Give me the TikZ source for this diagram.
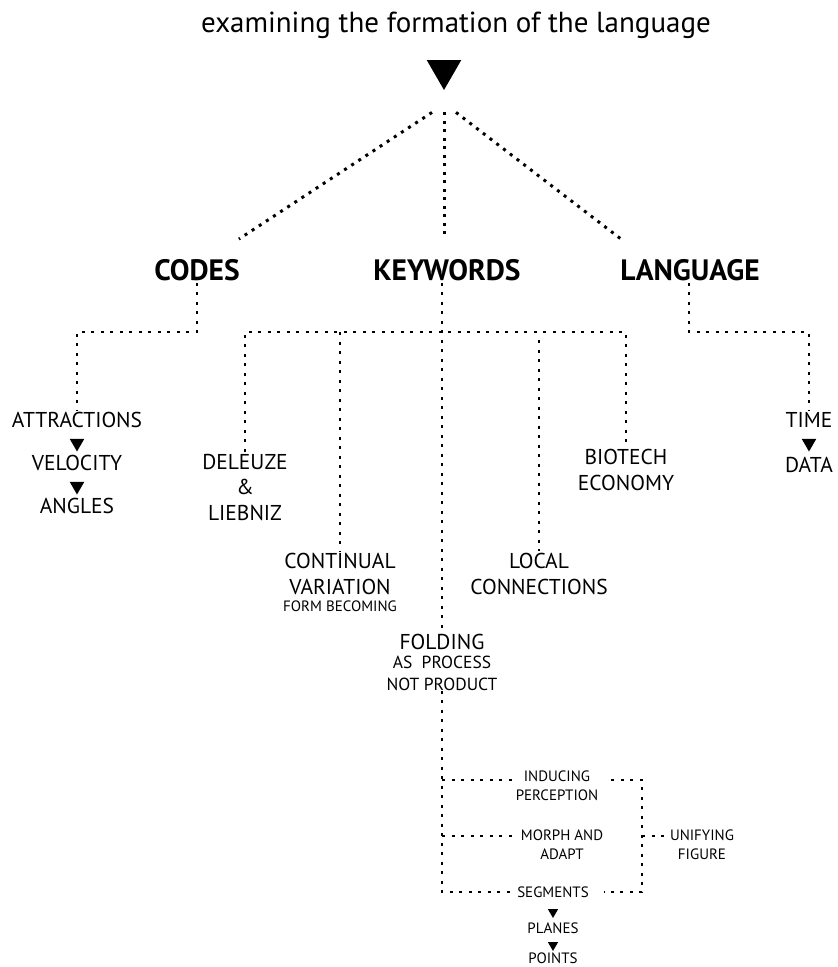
\documentclass[tikz,border=0pt]{standalone}
\usepackage{fontspec}
\setmainfont{PT Sans}
\usetikzlibrary{shapes.geometric}
\usetikzlibrary{positioning}

\begin{document}
\begin{tikzpicture}[x=1pt,y=-1pt,
titlenode/.style={font=\fontsize{29}{32}\selectfont, inner sep=0pt},
headnode/.style={font=\bfseries\fontsize{29.5}{32}\selectfont, inner sep=2pt},
labelnode/.style={font=\fontsize{21.5}{25.5}\selectfont, align=center, inner sep=2pt},
subnode/.style={font=\fontsize{17.5}{21.5}\selectfont, align=center, inner sep=2pt},
smallnode/.style={font=\fontsize{15}{19}\selectfont, align=center, inner sep=3pt},
bigtri/.style={regular polygon, regular polygon sides=3, shape border rotate=180, fill=black, inner sep=0pt, minimum size=40pt},
smalltri/.style={regular polygon, regular polygon sides=3, shape border rotate=180, fill=black, inner sep=0pt, minimum size=17pt},
tinytri/.style={regular polygon, regular polygon sides=3, shape border rotate=180, fill=black, inner sep=0pt, minimum size=12pt},
bigdots/.style={line width=3pt, dash pattern=on 3pt off 5.5pt},
dots/.style={line width=1.8pt, dash pattern=on 3pt off 6.5pt},
]
\useasboundingbox (0,0) rectangle (838,967);
%Nodes
\node[titlenode] (title) at (456,25) {examining the formation of the language};
\node[bigtri]    (mark)  at (444,70) {};
\node[headnode]  (codes)    at (197,270) {CODES};
\node[headnode]  (keywords) at (447,270) {KEYWORDS};
\node[headnode]  (language) at (690,270) {LANGUAGE};

\node[labelnode] (attr)     at (77,420) {ATTRACTIONS};
\node[smalltri]  (attrtri)  at (77,443) {};
\node[labelnode] (velocity) at (77,463) {VELOCITY};
\node[smalltri]  (veltri)   at (77,486) {};
\node[labelnode] (angles)   at (77,506) {ANGLES};

\node[labelnode] (deleuze)   at (245,487) {DELEUZE\\\&\\LIEBNIZ};
\node[labelnode] (continual) at (340,574) {CONTINUAL\\VARIATION};
\node[smallnode, inner sep=0pt] (becoming) [below=4pt of continual] {FORM BECOMING};
\node[labelnode] (local)     at (539,574) {LOCAL\\CONNECTIONS};
\node[labelnode] (biotech)   at (626,470) {BIOTECH\\ECONOMY};

\node[labelnode] (time)    at (809,420) {TIME};
\node[smalltri]  (timetri) at (809,443) {};
\node[labelnode] (data)    at (809,465) {DATA};

\node[labelnode] (folding) at (442,642) {FOLDING};
\node[subnode, inner sep=0pt] (process) [below=4pt of folding] {AS\ \ PROCESS\\NOT PRODUCT};

\node[smallnode] (inducing) at (557,786) {INDUCING\\PERCEPTION};
\node[smallnode] (morph)    at (562,845) {MORPH AND\\ADAPT};
\node[smallnode] (unifying) at (702,845) {UNIFYING\\FIGURE};
\node[smallnode] (segments) at (553,892) {SEGMENTS};
\node[tinytri]   (segtri)   at (553,912) {};
\node[smallnode] (planes)   at (553,928) {PLANES};
\node[tinytri]   (platri)   at (553,945) {};
\node[smallnode] (points)   at (553,958) {POINTS};

%Lines
\coordinate (codesbus) at (197,332);
\coordinate (kbus)     at (441,332);
\coordinate (langbus)  at (689,332);
\coordinate (ubar)     at (642,836);
\draw[bigdots] ([shift={(-12pt,-22pt)}]mark.south) -- ([shift={(-3pt,18pt)}]codes.north east);
\draw[bigdots] ([yshift=-22pt]mark.south) -- ([yshift=18pt]keywords.north -| mark);
\draw[bigdots] ([shift={(12pt,-22pt)}]mark.south) -- ([shift={(3pt,18pt)}]language.north west);

\draw[dots] (codes.south) -- (codesbus) -| (attr.north);
\draw[dots] (language.south -| langbus) -- (langbus) -| (time.north);
\draw[dots] (deleuze.north) |- (kbus) -| (biotech.north);
\draw[dots] (continual.north |- kbus) -- (continual.north);
\draw[dots] ([yshift=-8pt]local.north |- kbus) -- (local.north);
\draw[dots] (keywords.south -| folding.north) -- (folding.north);

\draw[dots] (process.south) -- (process.south |- segments.west) -- (segments.west);
\draw[dots] (process.south |- inducing.west) ++(0,-6) -- ([yshift=6pt]inducing.west);
\draw[dots] (process.south |- morph.west) ++(0,-9) -- ([yshift=9pt]morph.west);
\draw[dots, shorten <=10pt] ([yshift=6pt]inducing.east) -| (ubar) |- ([xshift=12pt]segments.east);
\draw[dots] (ubar) -- ([yshift=9pt]unifying.west);
\end{tikzpicture}
\end{document}
